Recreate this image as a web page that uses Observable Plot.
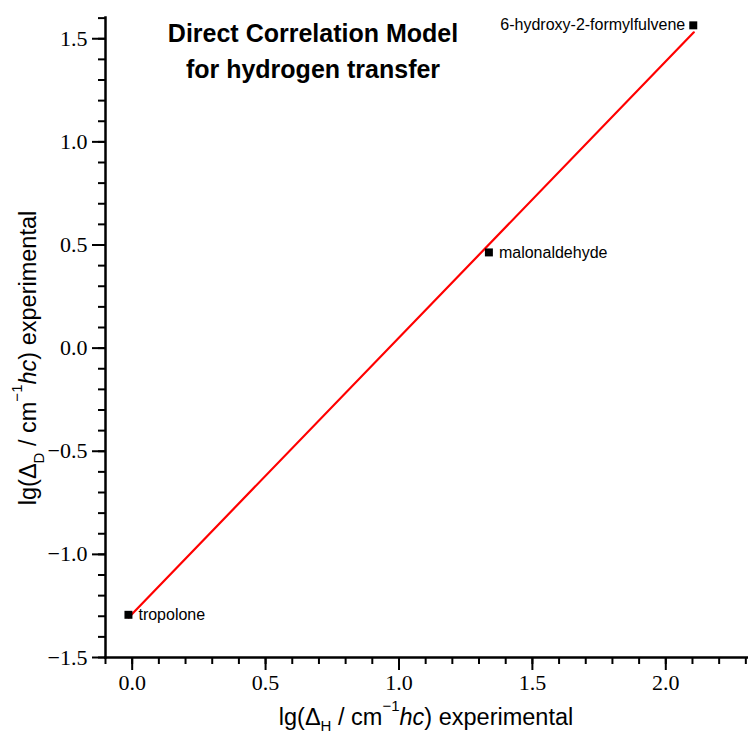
<!DOCTYPE html>
<html>
<head>
<meta charset="utf-8">
<script src="https://cdn.jsdelivr.net/npm/d3@7"></script>
<script src="https://cdn.jsdelivr.net/npm/@observablehq/plot@0.6"></script>
<style>
  html, body { margin: 0; padding: 0; background: #fff; }
</style>
</head>
<body>
<div id="chart"></div>
<script>
// ---- data ----
const names = ["tropolone", "malonaldehyde", "6-hydroxy-2-formylfulvene"];
const lgDeltaH = [-0.014, 1.337, 2.103];
const lgDeltaD = [-1.293, 0.464, 1.565];

// correlation line endpoints
const fitX = [-0.013, 2.105];
const fitY = [-1.306, 1.531];

const xMajor = [0, 0.5, 1.0, 1.5, 2.0];
const yMajor = [-1.5, -1.0, -0.5, 0, 0.5, 1.0, 1.5];
const xMinor = d3.range(-1, 24).map(i => i / 10);
const yMinor = d3.range(-15, 17).map(i => i / 10);

const points = names.map((n, i) => ({name: n, x: lgDeltaH[i], y: lgDeltaD[i]}));
const fit = fitX.map((x, i) => ({x, y: fitY[i]}));

const fmt = d3.format(".1f");
const serif = "Liberation Serif";

const svg = Plot.plot({
  width: 748,
  height: 734,
  marginLeft: 105,
  marginTop: 17,
  marginBottom: 77,
  marginRight: 0,
  style: {fontFamily: "Liberation Sans", background: "white", overflow: "visible", color: "black"},
  x: {domain: [-0.1, 2.31]},
  y: {domain: [-1.5, 1.603]},
  marks: [
    Plot.axisX(xMinor, {anchor: "bottom", tickSize: 7, strokeWidth: 2, tickFormat: () => "", label: null}),
    Plot.axisX(xMajor, {anchor: "bottom", tickSize: 13, strokeWidth: 2, tickPadding: 4, fontSize: 22, fontFamily: serif, tickFormat: fmt, label: null}),
    Plot.axisY(yMinor, {anchor: "left", tickSize: 7, strokeWidth: 2, tickFormat: () => "", label: null}),
    Plot.axisY(yMajor, {anchor: "left", tickSize: 13, strokeWidth: 2, tickPadding: 5, fontSize: 22, fontFamily: serif, tickFormat: fmt, label: null}),
    Plot.frame({anchor: "bottom", strokeWidth: 2.5, stroke: "black"}),
    Plot.frame({anchor: "left", strokeWidth: 2.5, stroke: "black"}),
    Plot.line(fit, {x: "x", y: "y", stroke: "red", strokeWidth: 2.2}),
    Plot.dot(points, {x: "x", y: "y", symbol: "square", r: 4.5, fill: "black", stroke: "none"}),
    Plot.text(points.filter(d => d.x < 2), {x: "x", y: "y", text: "name", textAnchor: "start", dx: 10, fontSize: 16, fill: "black"}),
    Plot.text(points.filter(d => d.x >= 2), {x: "x", y: "y", text: "name", textAnchor: "end", dx: -8, fontSize: 16, fill: "black"})
  ]
});

const s = d3.select(svg);

// enforce tick label font
s.selectAll("g[aria-label$='tick label'] text")
  .style("font-size", "22px")
  .style("font-family", serif);

// title
const title = s.append("text")
  .attr("text-anchor", "middle")
  .attr("font-family", "Liberation Sans")
  .attr("font-weight", "bold")
  .attr("font-size", 25)
  .attr("fill", "black");
title.append("tspan").attr("x", 313).attr("y", 42).text("Direct Correlation Model");
title.append("tspan").attr("x", 313).attr("y", 78).text("for hydrogen transfer");

function axisLabel(g, sub, subShift) {
  g.append("tspan").text("lg(Δ");
  g.append("tspan").attr("font-size", 15).attr("dy", subShift).text(sub);
  g.append("tspan").attr("dy", -subShift).text(" / cm");
  g.append("tspan").attr("font-size", 15).attr("dy", -14).text("−1");
  g.append("tspan").attr("dy", 14).attr("font-style", "italic").text("hc");
  g.append("tspan").text(") experimental");
}

// x label
const xl = s.append("text")
  .attr("x", 426).attr("y", 725)
  .attr("text-anchor", "middle")
  .attr("font-family", "Liberation Sans")
  .attr("font-size", 23.5)
  .attr("fill", "black");
axisLabel(xl, "H", 6);

// y label
const yl = s.append("text")
  .attr("transform", "translate(36,358) rotate(-90)")
  .attr("text-anchor", "middle")
  .attr("font-family", "Liberation Sans")
  .attr("font-size", 23.5)
  .attr("fill", "black");
axisLabel(yl, "D", 8);

document.getElementById("chart").appendChild(svg);
</script>
</body>
</html>
